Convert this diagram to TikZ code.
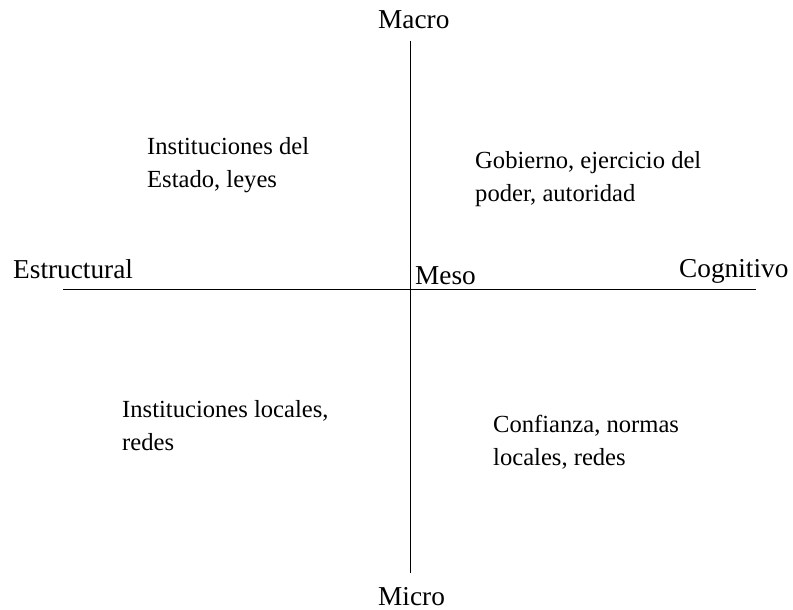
\documentclass[tikz,border=0pt]{standalone}
\usepackage{fontspec}
\setmainfont{Liberation Serif}
\tikzset{
  axislbl/.style={anchor=base west, inner sep=0pt, font=\fontsize{27.3}{33}\selectfont},
  quadtxt/.style={anchor=base west, inner sep=0pt, font=\fontsize{24.6}{33}\selectfont},
  axisline/.style={line width=1pt, black}
}
\newcommand{\twolines}[2]{\begin{tabular}[t]{@{}l@{}}#1\\#2\end{tabular}}
\begin{document}
\begin{tikzpicture}[x=1pt,y=-1pt]
\useasboundingbox (0,0) rectangle (793,610);
\coordinate (vtop) at (410.5,41);
\coordinate (vbot) at (410.5,573);
\coordinate (hleft) at (63,289.5);
\coordinate (hright) at (756,289.5);
\draw[axisline] (vtop) -- (vbot);
\draw[axisline] (hleft) -- (hright);
\node[axislbl] (macro) at (378,29) {Macro};
\node[axislbl] (micro) at (378,605) {Micro};
\node[axislbl] (estr) at (13,278) {Estructural};
\node[axislbl] (cogn) at (679,277) {Cognitivo};
\node[axislbl] (meso) at (415,284) {Meso};
\node[quadtxt] (q1) at (147,154) {\twolines{Instituciones del}{Estado, leyes}};
\node[quadtxt] (q2) at (475,168) {\twolines{Gobierno, ejercicio del}{poder, autoridad}};
\node[quadtxt] (q3) at (122,417) {\twolines{Instituciones locales,}{redes}};
\node[quadtxt] (q4) at (493,432) {\twolines{Confianza, normas}{locales, redes}};
\end{tikzpicture}
\end{document}
